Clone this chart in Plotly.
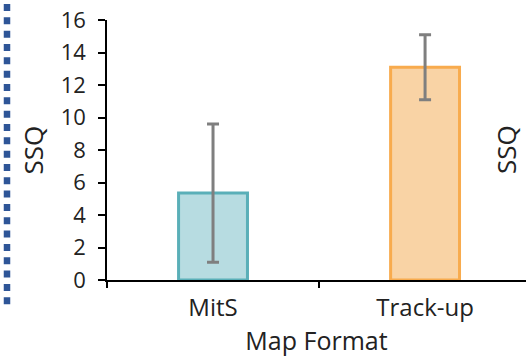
import plotly.graph_objects as go

categories = ["MitS", "Track-up"]
ssq_mean = [5.35, 13.1]
ssq_err = [4.25, 2.0]
y_ticks = [0, 2, 4, 6, 8, 10, 12, 14, 16]

fill_colors = ["#B7DCE1", "#F9D3A5"]
line_colors = ["#5AAFB8", "#F8AB4E"]

FONT = "Open Sans"
TXT = "#222222"

fig = go.Figure()
fig.add_trace(go.Bar(
    x=categories, y=ssq_mean, width=0.325,
    marker=dict(color=fill_colors, line=dict(color=line_colors, width=3)),
    error_y=dict(type="data", array=ssq_err, color="#7F7F7F", thickness=3, width=6),
))

fig.update_layout(
    width=526, height=361,
    margin=dict(l=107, r=0, t=20, b=81),
    plot_bgcolor="white", paper_bgcolor="white",
    showlegend=False,
    font=dict(family=FONT, size=22, color=TXT),
    xaxis=dict(
        range=[-0.5, 1.476], showline=True, linecolor="black", linewidth=1.5,
        ticks="outside", tickson="boundaries", ticklen=6, tickwidth=1.5, tickcolor="black",
        showgrid=False, zeroline=False, ticklabelstandoff=5,
        title=dict(text="Map Format", font=dict(size=25), standoff=8),
        tickfont=dict(size=24),
    ),
    yaxis=dict(
        range=[0, 16], tickvals=y_ticks, showline=True, linecolor="black", linewidth=1.5,
        ticks="outside", ticklen=7, tickwidth=1.5, tickcolor="black",
        showgrid=False, zeroline=False, ticklabelstandoff=8,
        title=dict(text="SSQ", font=dict(size=26), standoff=10),
        tickfont=dict(size=22),
    ),
    annotations=[dict(
        text="SSQ", xref="paper", yref="paper", x=1, y=0.5,
        xanchor="right", yanchor="middle", xshift=0, textangle=-90,
        showarrow=False, font=dict(family=FONT, size=26, color=TXT),
    )],
    shapes=[dict(
        type="line", xref="paper", yref="paper",
        x0=-100/419, x1=-100/419, y0=1 + 16/260, y1=-24.3/260,
        line=dict(color="#2E5597", width=6.5, dash="7px,6.33px"),
    )],
)

fig.write_html("out.html", config={"displayModeBar": False},
               post_script="document.body.style.margin='0';")
